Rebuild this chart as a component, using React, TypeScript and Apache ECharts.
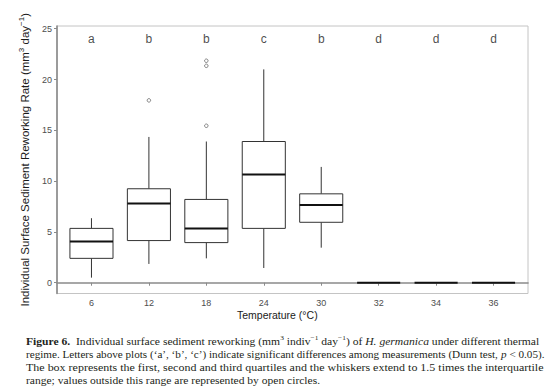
import React, { useEffect, useRef } from "react";
import * as echarts from "echarts";

const temperatures = ["6", "12", "18", "24", "30", "32", "34", "36"];
const lowWhisker = [0.5, 1.85, 2.4, 1.45, 3.45, 0, 0, 0];
const q1 = [2.4, 4.15, 3.95, 5.35, 5.95, 0, 0, 0];
const median = [4.05, 7.8, 5.35, 10.65, 7.65, 0, 0, 0];
const q3 = [5.35, 9.25, 8.2, 13.9, 8.75, 0, 0, 0];
const highWhisker = [6.35, 14.35, 13.9, 21.0, 11.4, 0, 0, 0];
const outlierGroup = [2, 3, 3, 3];
const outlierValue = [17.95, 21.85, 21.35, 15.45];
const letters = ["a", "b", "b", "c", "b", "d", "d", "d"];
const letterY = 24.0;
const tickValues = [0, 5, 10, 15, 20, 25];

export default function App() {
  const ref = useRef<HTMLDivElement>(null);
  useEffect(() => {
    if (!ref.current) return;
    const chart = echarts.init(ref.current, null, { renderer: "svg" });
    const boxData = temperatures.map((_, i) => [
      i + 1,
      lowWhisker[i],
      q1[i],
      median[i],
      q3[i],
      highWhisker[i],
    ]);
    const half = 0.375;
    const sans = "Liberation Sans";
    const serif = "Liberation Serif";
    const fs = 11;
    const capStyle = {
      fontFamily: serif,
      fontSize: fs,
      fill: "#231f20",
    };
    const rich = {
      b: { fontFamily: serif, fontSize: fs, fontWeight: "bold", fill: "#231f20", lineHeight: 14 },
      i: { fontFamily: serif, fontSize: fs, fontStyle: "italic", fill: "#231f20", lineHeight: 14 },
      s: { fontFamily: serif, fontSize: 7, verticalAlign: "top", fill: "#231f20", lineHeight: 14 },
      n: { fontFamily: serif, fontSize: fs, fill: "#231f20", lineHeight: 14 },
    };
    const capLines = [
      "{b|Figure 6.}{n|  Individual surface sediment reworking (mm}{s|3}{n| indiv}{s|−1}{n| day}{s|−1}{n|) of }{i|H. germanica}{n| under different thermal}",
      "{n|regime. Letters above plots (‘a’, ‘b’, ‘c’) indicate significant differences among measurements (Dunn test, }{i|p}{n| < 0.05).}",
      "{n|The box represents the first, second and third quartiles and the whiskers extend to 1.5 times the interquartile}",
      "{n|range; values outside this range are represented by open circles.}",
    ];
    const capY = [341.5, 354.3, 367.1, 379.9];
    const capScale = [1.054, 1.013, 1.09, 1.05];
    chart.setOption({
      animation: false,
      grid: {
        left: 57,
        right: 26,
        top: 26,
        bottom: 98.5,
        show: true,
        borderColor: "#c4c4c4",
        borderWidth: 1,
      },
      xAxis: {
        type: "value",
        min: 0.4,
        max: 8.6,
        splitLine: { show: false },
        axisLine: { show: true, lineStyle: { color: "#8a8a8a", width: 1.6 } },
        axisTick: { show: true, length: 3, lineStyle: { color: "#8a8a8a" }, customValues: [1, 2, 3, 4, 5, 6, 7, 8] },
        axisLabel: {
          customValues: [1, 2, 3, 4, 5, 6, 7, 8],
          formatter: (v: number) => temperatures[Math.round(v) - 1] ?? "",
          color: "#4d4d4d",
          fontFamily: sans,
          fontSize: 9,
          margin: 5,
        },
      },
      yAxis: {
        type: "value",
        min: -1.06,
        max: 25.27,
        splitLine: { show: false },
        axisLine: { show: true, lineStyle: { color: "#8a8a8a", width: 1.6 } },
        axisTick: { show: true, length: 3, lineStyle: { color: "#8a8a8a" }, customValues: tickValues },
        axisLabel: {
          customValues: tickValues,
          color: "#4d4d4d",
          fontFamily: sans,
          fontSize: 9,
          margin: 5,
        },
        name: "{n|Individual Surface Sediment Reworking Rate (mm}{s|3}{n| day}{s|−1}{n|)}",
        nameLocation: "middle",
        nameGap: 18,
        nameRotate: 90,
        nameTextStyle: {
          rich: {
            n: { fontFamily: sans, fontSize: 11.5, color: "#1a1a1a", lineHeight: 15 },
            s: { fontFamily: sans, fontSize: 8, color: "#1a1a1a", verticalAlign: "top", lineHeight: 15 },
          },
        },
      },
      series: [
        {
          type: "custom",
          data: boxData,
          renderItem: (params: any, api: any) => {
            const x = api.value(0);
            const lo = api.coord([x, api.value(1)]);
            const a = api.coord([x - half, api.value(2)]);
            const m1 = api.coord([x - half, api.value(3)]);
            const m2 = api.coord([x + half, api.value(3)]);
            const b = api.coord([x + half, api.value(4)]);
            const hi = api.coord([x, api.value(5)]);
            const q1c = api.coord([x, api.value(2)]);
            const q3c = api.coord([x, api.value(4)]);
            const stroke = { stroke: "#333333", lineWidth: 1, fill: "none" };
            const children: any[] = [];
            if (api.value(5) > api.value(1)) {
              children.push(
                { type: "line", shape: { x1: lo[0], y1: lo[1], x2: q1c[0], y2: q1c[1] }, style: stroke },
                { type: "line", shape: { x1: q3c[0], y1: q3c[1], x2: hi[0], y2: hi[1] }, style: stroke },
                {
                  type: "rect",
                  shape: { x: a[0], y: b[1], width: b[0] - a[0], height: a[1] - b[1] },
                  style: { stroke: "#333333", lineWidth: 1, fill: "#ffffff" },
                }
              );
            }
            children.push({
              type: "line",
              shape: { x1: m1[0], y1: m1[1], x2: m2[0], y2: m2[1] },
              style: { stroke: "#111111", lineWidth: 2 },
            });
            return { type: "group", children };
          },
        },
        {
          type: "scatter",
          data: outlierGroup.map((g, i) => [g, outlierValue[i]]),
          symbol: "circle",
          symbolSize: 3.5,
          itemStyle: { color: "#ffffff", borderColor: "#555555", borderWidth: 0.9 },
        },
        {
          type: "scatter",
          data: letters.map((_, i) => [i + 1, letterY]),
          symbolSize: 0,
          label: {
            show: true,
            position: "inside",
            formatter: (p: any) => letters[p.dataIndex],
            fontFamily: sans,
            fontSize: 12,
            color: "#1a1a1a",
          },
        },
      ],
      graphic: [
        {
          type: "text",
          left: 237,
          top: 309,
          style: { text: "Temperature (°C)", fontFamily: sans, fontSize: 10.5, fill: "#1a1a1a" },
        },
        ...capLines.map((t, i) => ({
          type: "text",
          x: 26,
          y: capY[i],
          scaleX: capScale[i],
          style: { ...capStyle, text: t, rich, verticalAlign: "middle" },
        })),
      ],
    });
    return () => chart.dispose();
  }, []);
  return <div ref={ref} style={{ width: 554, height: 392, position: "absolute", left: 0, top: 0 }} />;
}
